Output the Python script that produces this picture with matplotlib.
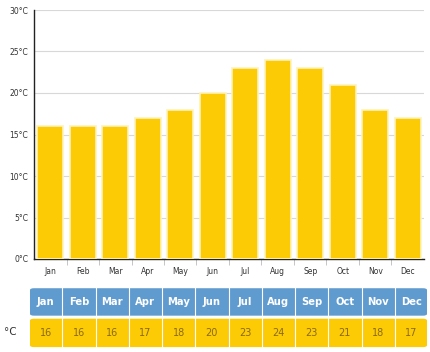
import matplotlib
matplotlib.use("Agg")
import matplotlib.pyplot as plt
from matplotlib.patches import FancyBboxPatch

months = ["Jan", "Feb", "Mar", "Apr", "May", "Jun", "Jul", "Aug", "Sep", "Oct", "Nov", "Dec"]
temps = [16, 16, 16, 17, 18, 20, 23, 24, 23, 21, 18, 17]
yticks = [0, 5, 10, 15, 20, 25, 30]
unit_label = "°C"

W, H = 430, 352
fig = plt.figure(figsize=(W / 100, H / 100), dpi=100)
plt.rcParams['font.family'] = ['DejaVu Sans']

bar_color = "#FCCB06"
blue = "#5F9BCF"

ax = fig.add_axes([34 / W, 1 - 259 / H, (424 - 34) / W, (259 - 10) / H])
x = list(range(len(months)))
ax.bar(x, temps, width=0.8, color=bar_color, edgecolor="#FFF2B8", linewidth=1.2, zorder=3)
ax.set_xlim(-0.5, len(months) - 0.5)
ax.set_ylim(0, 30)
ax.set_yticks(yticks)
ax.set_yticklabels([f"{v}{unit_label}" for v in yticks], fontsize=5.5, color="#333333")
ax.set_xticks(x)
ax.set_xticklabels(months, fontsize=5.5, color="#333333")
ax.tick_params(axis="y", length=0, pad=4)
ax.tick_params(axis="x", length=0, pad=6)
ax.set_xticks([i + 0.5 for i in x[:-1]], minor=True)
ax.tick_params(axis="x", which="minor", length=4, color="#bbbbbb", width=0.6)
ax.grid(axis="y", color="#d8d8d8", linewidth=0.8, zorder=0)
for s in ["top", "right"]:
    ax.spines[s].set_visible(False)
ax.spines["left"].set_color("#222222")
ax.spines["left"].set_linewidth(1.0)
ax.spines["bottom"].set_color("#222222")
ax.spines["bottom"].set_linewidth(1.0)

# table
tx0, tx1, ty0, ty1 = 29, 428, 287, 348
tax = fig.add_axes([tx0 / W, 1 - ty1 / H, (tx1 - tx0) / W, (ty1 - ty0) / H])
n = len(months)
tax.set_xlim(0, n)
tax.set_ylim(0, 2)
tax.axis("off")
tax.add_patch(FancyBboxPatch((0.03, 1.06), n - 0.06, 0.9, boxstyle="round,pad=0,rounding_size=0.12",
                             mutation_aspect=0.5, facecolor=blue, edgecolor="none"))
tax.add_patch(FancyBboxPatch((0.03, 0.03), n - 0.06, 0.93, boxstyle="round,pad=0,rounding_size=0.12",
                             mutation_aspect=0.5, facecolor=bar_color, edgecolor="none"))
for i in range(1, n):
    tax.plot([i, i], [0, 2], color="white", linewidth=0.8)
for i, (m, t) in enumerate(zip(months, temps)):
    tax.text(i + 0.5, 1.5, m, ha="center", va="center", fontsize=7.2, fontweight="bold", color="white")
    tax.text(i + 0.5, 0.5, str(t), ha="center", va="center", fontsize=7, color="#8a6a10")
fig.text(10 / W, 1 - 332 / H, unit_label, ha="center", va="center", fontsize=7.5, color="#333333")

fig.savefig("out.png", dpi=100)
